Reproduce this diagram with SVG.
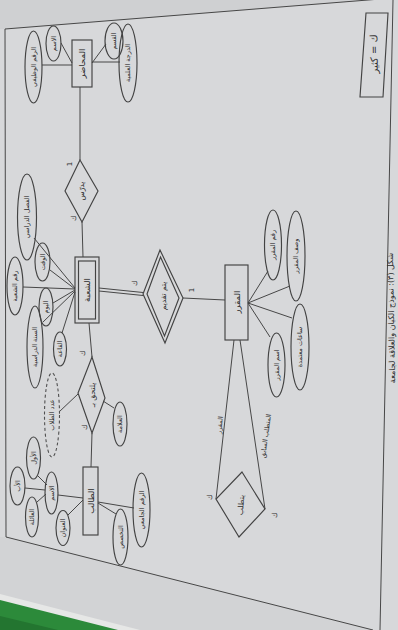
<svg xmlns="http://www.w3.org/2000/svg" width="398" height="630" viewBox="0 0 398 630">
  <style>
    .ln { stroke: #474747; stroke-width: 1; fill: none; }
    .shape { stroke: #434343; stroke-width: 1.15; fill: none; }
    .dash { stroke: #505050; stroke-width: 1.1; fill: none; stroke-dasharray: 3 2.5; }
    text { font-family: "DejaVu Sans", "Noto Sans", sans-serif; fill: #2e2e2e; text-anchor: middle; dominant-baseline: central; }
    .ent { font-size: 8.5px; }
    .rel { font-size: 7.5px; }
    .att { font-size: 6.5px; }
    .card { font-size: 7px; }
  </style>

  <!-- paper and surroundings -->
  <rect x="0" y="0" width="398" height="630" fill="#d7d8da"/>
  <polygon points="0,0 398,0 398,-2 5,29 0,29" fill="#cfd0d2"/>
  <polygon points="0,537 6,537 373,630 0,630" fill="#d2d3d5"/>
  <polygon points="0,594 140,630 0,630" fill="#e6e7e6"/>
  <polygon points="0,600 118,630 0,630" fill="#2c8a3a"/>
  <polygon points="0,616 58,630 0,630" fill="#237530"/>

  <!-- page frame -->
  <g id="frame">
    <polyline class="ln" points="393,-2 5,29 6,537 373,630"/>
    <line class="ln" x1="393" y1="0" x2="380" y2="630"/>
  </g>

  <!-- connectors -->
  <g id="connectors">
    <!-- lecturer attributes -->
    <line class="ln" x1="42" y1="65" x2="72" y2="65"/>
    <line class="ln" x1="61" y1="43" x2="72" y2="63"/>
    <line class="ln" x1="92" y1="63" x2="106" y2="44"/>
    <line class="ln" x1="92" y1="62" x2="120" y2="62"/>
    <!-- lecturer - teaches - section -->
    <line class="ln" x1="80" y1="87" x2="80" y2="160"/>
    <line class="ln" x1="82" y1="222" x2="83" y2="257"/>
    <!-- section attributes -->
    <line class="ln" x1="34" y1="238" x2="75" y2="288"/>
    <line class="ln" x1="50" y1="270" x2="75" y2="289"/>
    <line class="ln" x1="23" y1="287" x2="75" y2="289"/>
    <line class="ln" x1="53" y1="303" x2="75" y2="290"/>
    <line class="ln" x1="43" y1="322" x2="75" y2="291"/>
    <line class="ln" x1="62" y1="333" x2="75" y2="292"/>
    <!-- section = offered (identifying) -->
    <line class="ln" x1="99" y1="288" x2="143" y2="292.5"/>
    <line class="ln" x1="99" y1="291" x2="143" y2="295.5"/>
    <line class="ln" x1="183" y1="298" x2="225" y2="300"/>
    <!-- course attributes -->
    <line class="ln" x1="268" y1="271" x2="248" y2="303"/>
    <line class="ln" x1="290" y1="286" x2="248" y2="303"/>
    <line class="ln" x1="292" y1="318" x2="248" y2="303"/>
    <line class="ln" x1="270" y1="337" x2="248" y2="303"/>
    <!-- course prerequisite (recursive) -->
    <line class="ln" x1="234" y1="340" x2="216" y2="499"/>
    <line class="ln" x1="240" y1="340" x2="265" y2="509"/>
    <!-- section - enrolls - student -->
    <line class="ln" x1="89" y1="323" x2="92" y2="357"/>
    <line class="ln" x1="92" y1="433" x2="91" y2="467"/>
    <line class="ln" x1="103" y1="401" x2="114" y2="408"/>
    <line class="ln" x1="59" y1="412" x2="78" y2="394"/>
    <!-- student attributes -->
    <line class="ln" x1="58" y1="495" x2="83" y2="498"/>
    <line class="ln" x1="38" y1="476" x2="47" y2="485"/>
    <line class="ln" x1="25" y1="488" x2="45" y2="490"/>
    <line class="ln" x1="37" y1="502" x2="46" y2="494"/>
    <line class="ln" x1="68" y1="515" x2="83" y2="500"/>
    <line class="ln" x1="98" y1="502" x2="134" y2="508"/>
    <line class="ln" x1="98" y1="503" x2="116" y2="514"/>
  </g>

  <!-- lecturer -->
  <g id="lecturer">
    <rect class="shape" x="72" y="40" width="20" height="47"/>
    <text class="ent" transform="translate(82,63.5) rotate(-90)">المحاضر</text>
  </g>
  <g id="lecturer-name">
    <ellipse class="shape" cx="53.5" cy="43.5" rx="7.5" ry="17.5"/>
    <text class="att" transform="translate(53.5,43.5) rotate(-90)">الاسم</text>
  </g>
  <g id="lecturer-id">
    <ellipse class="shape" cx="33.5" cy="67" rx="8.5" ry="36"/>
    <text class="att" transform="translate(33.5,67) rotate(-90)">الرقم الوظيفي</text>
  </g>
  <g id="lecturer-dept">
    <ellipse class="shape" cx="114" cy="41" rx="9" ry="18"/>
    <text class="att" transform="translate(114,41) rotate(-90)">القسم</text>
  </g>
  <g id="lecturer-degree">
    <ellipse class="shape" cx="128" cy="63" rx="9" ry="39"/>
    <text class="att" transform="translate(128,63) rotate(-90)">الدرجة العلمية</text>
  </g>

  <!-- teaches -->
  <g id="teaches">
    <polygon class="shape" points="80,160 98,191 82,222 65,191"/>
    <text class="rel" transform="translate(81.5,191) rotate(-90)">يدرّس</text>
    <text class="card" transform="translate(70,164) rotate(-90)">1</text>
    <text class="card" transform="translate(74,218) rotate(-90)">ك</text>
  </g>

  <!-- section (weak entity) -->
  <g id="section">
    <rect class="shape" x="75" y="257" width="24" height="66"/>
    <rect class="shape" x="78.5" y="261" width="17" height="58"/>
    <text class="ent" transform="translate(87,290) rotate(-90)">الشعبة</text>
  </g>
  <g id="section-semester">
    <ellipse class="shape" cx="27" cy="217" rx="9.5" ry="43"/>
    <text class="att" transform="translate(27,217) rotate(-90)">الفصل الدراسي</text>
  </g>
  <g id="section-time">
    <ellipse class="shape" cx="42.5" cy="262" rx="7.5" ry="19"/>
    <text class="att" transform="translate(42.5,262) rotate(-90)">الوقت</text>
  </g>
  <g id="section-number">
    <ellipse class="shape" cx="15" cy="286" rx="8" ry="29"/>
    <text class="att" transform="translate(15,286) rotate(-90)">رقم الشعبة</text>
  </g>
  <g id="section-day">
    <ellipse class="shape" cx="46" cy="307" rx="7" ry="19"/>
    <text class="att" transform="translate(46,307) rotate(-90)">اليوم</text>
  </g>
  <g id="section-year">
    <ellipse class="shape" cx="35" cy="347" rx="8" ry="41"/>
    <text class="att" transform="translate(35,347) rotate(-90)">السنة الدراسية</text>
  </g>
  <g id="section-room">
    <ellipse class="shape" cx="60" cy="349" rx="6.5" ry="17"/>
    <text class="att" transform="translate(60,349) rotate(-90)">القاعة</text>
  </g>

  <!-- offered (identifying relationship) -->
  <g id="offered">
    <polygon class="shape" points="160,250 183,298 165,343 143,294"/>
    <polygon class="shape" points="160.5,257 179,298 164.5,336 147,294"/>
    <text class="rel" transform="translate(163,296) rotate(-90)">يتم تقديم</text>
    <text class="card" transform="translate(135,283) rotate(-90)">ك</text>
    <text class="card" transform="translate(192,290) rotate(-90)">1</text>
  </g>

  <!-- course -->
  <g id="course">
    <rect class="shape" x="225" y="265" width="23" height="75"/>
    <text class="ent" transform="translate(236.5,302) rotate(-90)">المقرر</text>
  </g>
  <g id="course-number">
    <ellipse class="shape" cx="273" cy="245" rx="8.5" ry="35"/>
    <text class="att" transform="translate(273,245) rotate(-90)">رقم المقرر</text>
  </g>
  <g id="course-desc">
    <ellipse class="shape" cx="296" cy="256" rx="9" ry="45"/>
    <text class="att" transform="translate(296,256) rotate(-90)">وصف المقرر</text>
  </g>
  <g id="course-hours">
    <ellipse class="shape" cx="300" cy="347" rx="9" ry="43"/>
    <text class="att" transform="translate(300,347) rotate(-90)">ساعات معتمدة</text>
  </g>
  <g id="course-name">
    <ellipse class="shape" cx="276.5" cy="365" rx="8.5" ry="32"/>
    <text class="att" transform="translate(276.5,365) rotate(-90)">اسم المقرر</text>
  </g>

  <!-- requires (recursive on course) -->
  <g id="requires">
    <polygon class="shape" points="242,472 265,509 239,537 216,499"/>
    <text class="rel" transform="translate(241,505) rotate(-86)">يتطلب</text>
    <text class="card" transform="translate(210,497) rotate(-90)">ك</text>
    <text class="card" transform="translate(275,515) rotate(-90)">ك</text>
    <text class="att" transform="translate(220,425) rotate(-84)">المقرر</text>
    <text class="att" transform="translate(266,436) rotate(-82)">المتطلب السابق</text>
  </g>

  <!-- enrolls -->
  <g id="enrolls">
    <polygon class="shape" points="92,357 105,398 92,433 78,393"/>
    <text class="rel" transform="translate(92,395) rotate(-90)">يلتحق بـ</text>
    <text class="card" transform="translate(83,353) rotate(-90)">ك</text>
    <text class="card" transform="translate(85,427) rotate(-90)">ك</text>
  </g>
  <g id="enrolls-grade">
    <ellipse class="shape" cx="120" cy="424" rx="7" ry="22"/>
    <text class="att" transform="translate(120,424) rotate(-90)">العلامة</text>
  </g>
  <g id="student-count">
    <ellipse class="dash" cx="52" cy="415" rx="7.5" ry="42"/>
    <text class="att" transform="translate(52,415) rotate(-90)">عدد الطلاب</text>
  </g>

  <!-- student -->
  <g id="student">
    <rect class="shape" x="83" y="467" width="15" height="68"/>
    <text class="ent" transform="translate(90.5,501) rotate(-90)">الطالب</text>
  </g>
  <g id="student-name">
    <ellipse class="shape" cx="51.5" cy="493" rx="6.5" ry="21"/>
    <text class="att" transform="translate(51.5,493) rotate(-90)">الاسم</text>
  </g>
  <g id="student-first">
    <ellipse class="shape" cx="33.5" cy="458" rx="7" ry="21"/>
    <text class="att" transform="translate(33.5,458) rotate(-90)">الأول</text>
  </g>
  <g id="student-father">
    <ellipse class="shape" cx="17.5" cy="486" rx="7.5" ry="19"/>
    <text class="att" transform="translate(17.5,486) rotate(-90)">الأب</text>
  </g>
  <g id="student-family">
    <ellipse class="shape" cx="32" cy="517" rx="6.5" ry="20"/>
    <text class="att" transform="translate(32,517) rotate(-90)">العائلة</text>
  </g>
  <g id="student-address">
    <ellipse class="shape" cx="63" cy="528" rx="7" ry="17.5"/>
    <text class="att" transform="translate(63,528) rotate(-90)">العنوان</text>
  </g>
  <g id="student-major">
    <ellipse class="shape" cx="120.5" cy="537" rx="7.5" ry="28"/>
    <text class="att" transform="translate(120.5,537) rotate(-90)">التخصص</text>
  </g>
  <g id="student-id">
    <ellipse class="shape" cx="141.5" cy="510" rx="8.5" ry="37"/>
    <text class="att" transform="translate(141.5,510) rotate(-90)">الرقم الجامعي</text>
  </g>

  <!-- legend -->
  <g id="legend">
    <polygon class="shape" points="366,13 388,13 383,97 360,97"/>
    <text style="font-size:10px" transform="translate(374,54) rotate(-91)">ك = كثير</text>
  </g>

  <!-- caption along the sheet edge -->
  <g id="caption">
    <text style="font-size:8px" transform="translate(391.5,318) rotate(-91)">شكل (٣): نموذج الكيان والعلاقة لجامعة</text>
  </g>
</svg>
